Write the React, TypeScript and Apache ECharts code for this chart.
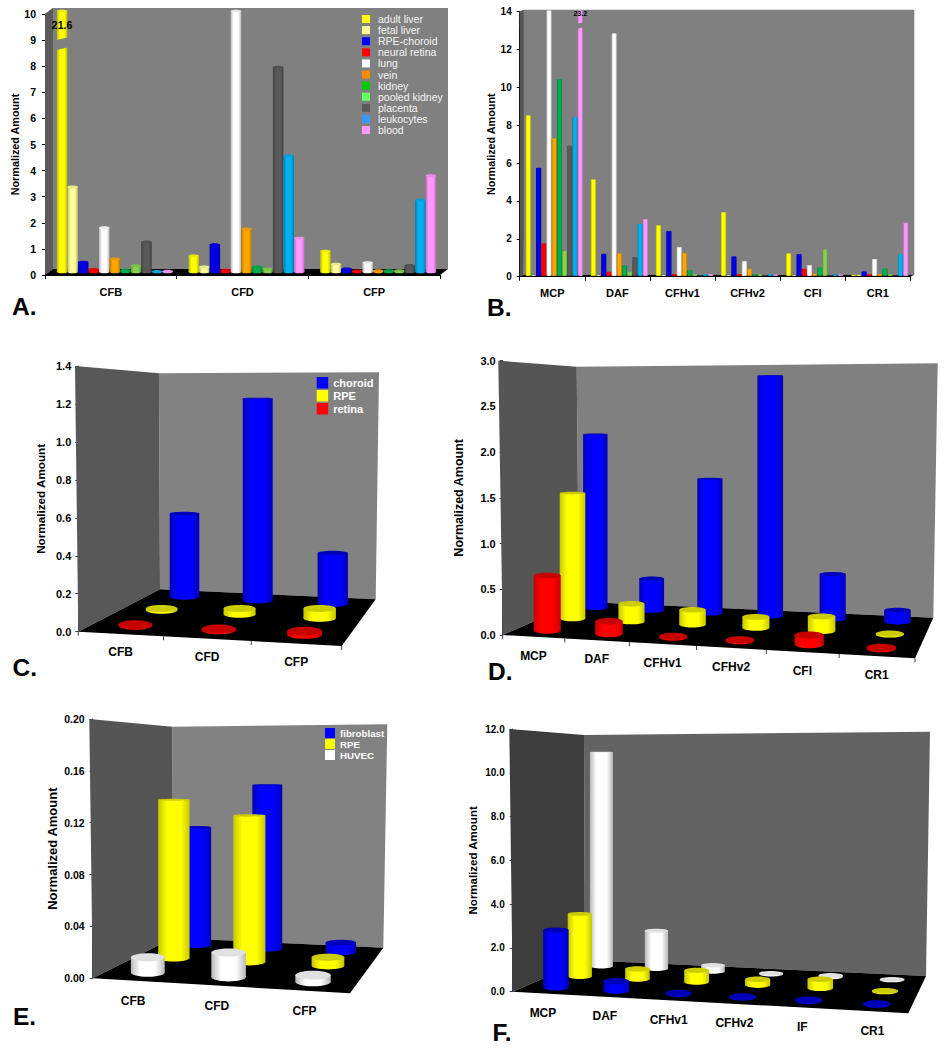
import React, { useEffect, useRef } from "react";
import * as echarts from "echarts";

const FONT = '"Liberation Sans", Arial, sans-serif';

// ---------- categories ----------
const plasmaCats = ["CFB", "CFD", "CFP"];
const membraneCats = ["MCP", "DAF", "CFHv1", "CFHv2", "CFI", "CR1"];
const membraneCatsF = ["MCP", "DAF", "CFHv1", "CFHv2", "IF", "CR1"];
const tissueNames = ["adult liver", "fetal liver", "RPE-choroid", "neural retina", "lung", "vein", "kidney", "pooled kidney", "placenta", "leukocytes", "blood"];

// ---------- panel A values ----------
const aAdultLiver = [21.6, 0.62, 0.8];
const aFetalLiver = [3.26, 0.2, 0.3];
const aRpeChoroid = [0.38, 1.05, 0.12];
const aNeuralRetina = [0.1, 0.07, 0.04];
const aLung = [1.7, 10, 0.36];
const aVein = [0.5, 1.65, 0.05];
const aKidney = [0.07, 0.2, 0.05];
const aPooledKidney = [0.24, 0.12, 0.05];
const aPlacenta = [1.15, 7.85, 0.25];
const aLeukocytes = [0.02, 4.45, 2.75];
const aBlood = [0.03, 1.3, 3.69];

// ---------- panel B values ----------
const bAdultLiver = [8.45, 5.07, 2.64, 3.33, 1.16, 0.03];
const bFetalLiver = [0.02, 0.02, 0.02, 0.02, 0.02, 0.03];
const bRpeChoroid = [5.69, 1.14, 2.34, 1.0, 1.13, 0.21];
const bNeuralRetina = [1.69, 0.19, 0.07, 0.07, 0.35, 0.07];
const bLung = [14, 12.78, 1.5, 0.76, 0.53, 0.86];
const bVein = [7.24, 1.16, 1.18, 0.35, 0.09, 0.07];
const bKidney = [10.37, 0.53, 0.28, 0.07, 0.42, 0.37];
const bPooledKidney = [1.3, 0.19, 0.07, 0.07, 1.37, 0.07];
const bPlacenta = [6.85, 0.97, 0.01, 0.01, 0.01, 0.01];
const bLeukocytes = [8.35, 2.73, 0.07, 0.07, 0.05, 1.13];
const bBlood = [23.2, 2.96, 0.07, 0.05, 0.05, 2.78];

// ---------- panels C to F values ----------
const cChoroid = [0.52, 1.245, 0.31];
const cRpe = [0.01, 0.032, 0.055];
const cRetina = [0.005, 0.005, 0.018];

const dBlue = [2.15, 0.39, 1.61, 2.83, 0.52, 0.135];
const dYellow = [1.475, 0.204, 0.167, 0.12, 0.159, 0.01];
const dRed = [0.61, 0.135, 0.01, 0.01, 0.098, 0.01];

const eFibroblast = [0.108, 0.147, 0.0085];
const eRpe = [0.135, 0.1225, 0.007];
const eHuvec = [0.012, 0.019, 0.005];

const fWhite = [11.05, 1.94, 0.31, 0.05, 0.08, 0.03];
const fYellow = [3.06, 0.49, 0.56, 0.27, 0.42, 0.03];
const fBlue = [2.67, 0.43, 0.03, 0.03, 0.03, 0.03];

// ---------- styles ----------
const tissueBarColors = ["#ffff00", "#ffff99", "#0000e6", "#ff0000", "#ffffff", "#ffa500", "#00b050", "#88d050", "#595959", "#00b0f0", "#ff99ff"];
const tissueLegendColors = ["#ffff00", "#ffff99", "#0000ff", "#ff0000", "#ffffff", "#ff8c00", "#00cc00", "#66ff66", "#595959", "#3399ff", "#ff99ff"];
const BLUE = "#0000ff";
const YELLOW = "#ffff00";
const RED = "#ff0000";
const WHITE = "#ffffff";

function shade(hex: string, f: number) {
  const n = parseInt(hex.slice(1), 16);
  const ch = (s: number) => Math.round(((n >> s) & 255) * f);
  return `rgb(${ch(16)},${ch(8)},${ch(0)})`;
}

function cylinder(cx: number, topY: number, baseY: number, rx: number, ryBase: number, ryTop: number, color: string, edge: number, topF: number) {
  const side = new echarts.graphic.LinearGradient(0, 0, 1, 0, [
    { offset: 0, color: shade(color, edge) },
    { offset: 0.28, color },
    { offset: 0.72, color },
    { offset: 1, color: shade(color, edge) },
  ]);
  return [
    { type: "ellipse", shape: { cx, cy: baseY, rx, ry: ryBase }, style: { fill: side } },
    { type: "rect", shape: { x: cx - rx, y: topY, width: rx * 2, height: Math.max(0, baseY - topY) }, style: { fill: side } },
    { type: "ellipse", shape: { cx, cy: topY, rx, ry: ryTop }, style: { fill: shade(color, topF) } },
  ];
}

// ---------- flat panels (A, B) ----------
type Flat = {
  left: number; right: number; top: number; bottom: number; max: number; step: number;
  dx: number; dy: number; pitch: number; shift: number; topTilt: number;
  cats: string[]; wall: string; side: string; label: string; nameGap: number; axisFont: number;
  labelMargin: number; nameFont: number; breakAt: number[]; breakTilt: number; barLabelOffset: number; barLabelFont: number;
  breakCat: number; breakTissue: number;
};

const panelA: Flat = {
  left: 45, right: 440, top: 14, bottom: 275, max: 10, step: 1, dx: 8, dy: -6, pitch: 10.55, shift: 4, topTilt: 0.26,
  cats: plasmaCats, wall: "#808080", side: "#5a5a5a", label: "21.6", nameGap: 22, axisFont: 10.5, labelMargin: 9, nameFont: 10.8,
  breakAt: [8.5, 8.88], breakTilt: -3, barLabelOffset: 14, barLabelFont: 10.5, breakCat: 0, breakTissue: 0,
};
const panelB: Flat = {
  left: 519.7, right: 910.3, top: 11.7, bottom: 276.7, max: 14, step: 2, dx: 4, dy: -2, pitch: 5.2, shift: 2, topTilt: 0.12,
  cats: membraneCats, wall: "#808080", side: "#555555", label: "23.2", nameGap: 21, axisFont: 10, labelMargin: 8, nameFont: 10.8,
  breakAt: [13.06, 13.33], breakTilt: -1, barLabelOffset: 3, barLabelFont: 7, breakCat: 0, breakTissue: 10,
};

// ---------- perspective panels (C to F) ----------
type Pt = number[];
type Persp = {
  fl: Pt; fr: Pt; br: Pt; bl: Pt; flTop: Pt; blTop: Pt; brTop: Pt;
  max: number; step: number; digits: number; cats: string[]; wall: string; side: string; rx: number;
  nameGap: number; nameFont: number; axisFont: number; labelMargin: number; ticks: boolean; catDy: number;
};

const panelC: Persp = {
  fl: [78.3, 631.7], fr: [341.7, 646], br: [375.7, 599.3], bl: [160, 589.3], flTop: [75, 366], blTop: [159, 373.3], brTop: [379, 372.3],
  max: 1.4, step: 0.2, digits: 1, cats: plasmaCats, wall: "#828282", side: "#585858", rx: 17.5, nameGap: 32, nameFont: 11.7, axisFont: 11, labelMargin: 7, ticks: true, catDy: 18.5,
};
const panelD: Persp = {
  fl: [502.7, 635], fr: [915, 658.3], br: [933.3, 617.7], bl: [579, 601.7], flTop: [498.3, 360.7], blTop: [576.7, 366.7], brTop: [937.7, 363.3],
  max: 3, step: 0.5, digits: 1, cats: membraneCats, wall: "#808080", side: "#555555", rx: 13.8, nameGap: 37, nameFont: 12.5, axisFont: 11, labelMargin: 7, ticks: true, catDy: 19,
};
const panelE: Persp = {
  fl: [92.7, 978.3], fr: [350, 993.3], br: [383.3, 947.7], bl: [173.3, 938], flTop: [89.3, 719], blTop: [172.3, 726.7], brTop: [387.3, 724.3],
  max: 0.2, step: 0.04, digits: 2, cats: plasmaCats, wall: "#828282", side: "#555555", rx: 17.4, nameGap: 34, nameFont: 13, axisFont: 10.5, labelMargin: 8, ticks: false, catDy: 20.5,
};
const panelF: Persp = {
  fl: [512.7, 991.7], fr: [908.3, 1013.3], br: [926, 976], bl: [585, 960.3], flTop: [509.3, 729], blTop: [584, 735], brTop: [930, 731.7],
  max: 12, step: 2, digits: 1, cats: membraneCatsF, wall: "#636363", side: "#3d3d3d", rx: 13, nameGap: 34, nameFont: 11.5, axisFont: 10, labelMargin: 8, ticks: false, catDy: 19.5,
};

function homography(g: Persp) {
  const [x0, y0] = g.fl, [x1, y1] = g.fr, [x2, y2] = g.br, [x3, y3] = g.bl;
  const dx1 = x1 - x2, dx2 = x3 - x2, sx = x0 - x1 + x2 - x3;
  const dy1 = y1 - y2, dy2 = y3 - y2, sy = y0 - y1 + y2 - y3;
  const det = dx1 * dy2 - dx2 * dy1;
  const gg = (sx * dy2 - dx2 * sy) / det;
  const h = (dx1 * sy - sx * dy1) / det;
  const a = x1 - x0 + gg * x1, b = x3 - x0 + h * x3, d = y1 - y0 + gg * y1, e = y3 - y0 + h * y3;
  return (u: number, v: number) => {
    const w = gg * u + h * v + 1;
    return [(a * u + b * v + x0) / w, (d * u + e * v + y0) / w, 1 / w];
  };
}

const series: any[] = [];
const grids: any[] = [];
const xAxes: any[] = [];
const yAxes: any[] = [];

function yAxisBase(max: number, step: number, gridIndex: number, font: number, margin: number, nameGap: number, nameFont: number, digits: number, lineColor: string) {
  return {
    type: "value", gridIndex, min: 0, max, interval: step,
    name: "Normalized Amount", nameLocation: "middle", nameGap,
    nameTextStyle: { fontFamily: FONT, fontWeight: "bold", fontSize: nameFont, color: "#000" },
    axisLine: { show: true, lineStyle: { color: lineColor, width: 1 } },
    axisTick: { show: true, length: 3, lineStyle: { color: lineColor } },
    splitLine: { show: false },
    axisLabel: {
      fontFamily: FONT, fontWeight: "bold", fontSize: font, color: "#000", margin,
      formatter: (v: number) => (digits ? v.toFixed(digits) : String(Math.round(v))),
    },
  };
}

function addFlatPanel(p: Flat, tissues: number[][]) {
  const gi = grids.length;
  grids.push({ left: p.left, width: p.right - p.left, top: p.top, height: p.bottom - p.top });
  xAxes.push({
    type: "category", gridIndex: gi, data: p.cats,
    axisLine: { show: true, lineStyle: { color: "#000" } },
    axisTick: { show: true, length: 4, lineStyle: { color: "#000" } },
    axisLabel: { fontFamily: FONT, fontWeight: "bold", fontSize: 11, color: "#000", margin: 11 },
  });
  yAxes.push(yAxisBase(p.max, p.step, gi, p.axisFont, p.labelMargin, p.nameGap, p.nameFont, 0, "#000"));
  const L = p.left, R = p.right, T = p.top, B = p.bottom;
  series.push({
    type: "custom", name: "wall", xAxisIndex: gi, yAxisIndex: gi, silent: true, data: [[p.cats[0], 0]], encode: { x: 0, y: 1 },
    renderItem: () => ({
      type: "group",
      children: [
        { type: "polygon", shape: { points: [[L, T], [L + p.dx, T + p.dy], [R + p.dx, T + p.dy], [R + p.dx, B + p.dy], [L + p.dx, B + p.dy]] }, style: { fill: p.wall } },
        { type: "polygon", shape: { points: [[L, B], [L + p.dx, B + p.dy], [L + p.dx, T + p.dy], [L, T]] }, style: { fill: p.side } },
        { type: "polygon", shape: { points: [[L, B], [R, B], [R + p.dx, B + p.dy], [L + p.dx, B + p.dy]] }, style: { fill: "#000" } },
      ],
    }),
  });
  tissues.forEach((vals, ti) => {
    series.push({
      type: "custom", name: tissueNames[ti], xAxisIndex: gi, yAxisIndex: gi, silent: true,
      itemStyle: { color: tissueLegendColors[ti] },
      data: vals.map((v, i) => [p.cats[i], v]), encode: { x: 0, y: 1 },
      renderItem: (_: any, api: any) => {
        const ci = api.value(0), val = api.value(1);
        const clipped = Math.min(val, p.max);
        const c0 = api.coord([ci, 0]), cv = api.coord([ci, clipped]);
        const rx = p.pitch / 2;
        const cx = c0[0] + p.shift + (ti - 5) * p.pitch;
        const topY = cv[1] + p.dy * 0.5, baseY = c0[1] + p.dy * 0.5;
        const ry = rx * p.topTilt;
        const children: any[] = cylinder(cx, topY, baseY, rx, ry, ry, tissueBarColors[ti], 0.72, 0.92);
        if (val > p.max && ci === p.breakCat && ti === p.breakTissue) {
          const lo = api.coord([ci, p.breakAt[0]])[1] + p.dy * 0.5;
          const hi = api.coord([ci, p.breakAt[1]])[1] + p.dy * 0.5;
          children.push({
            type: "polygon",
            shape: { points: [[cx - rx - 1, lo], [cx + rx + 1, lo + p.breakTilt], [cx + rx + 1, hi + p.breakTilt], [cx - rx - 1, hi]] },
            style: { fill: p.wall },
          });
          children.push({
            type: "text",
            style: { x: cx, y: topY + p.barLabelOffset, text: p.label, fill: "#000", font: `bold ${p.barLabelFont}px ${FONT}`, align: "center", verticalAlign: "middle" },
          });
        }
        return { type: "group", children };
      },
    });
  });
}

function addPerspPanel(p: Persp, rows: { name: string; color: string; v: number; values: number[]; edge: number; topF: number }[]) {
  const gi = grids.length;
  const left = p.fl[0], width = p.fr[0] - p.fl[0];
  grids.push({ left, width, top: p.flTop[1], height: p.fl[1] - p.flTop[1] });
  xAxes.push({ type: "category", gridIndex: gi, data: p.cats, show: false });
  yAxes.push(yAxisBase(p.max, p.step, gi, p.axisFont, p.labelMargin, p.nameGap, p.nameFont, p.digits, "#33415c"));
  const project = homography(p);
  series.push({
    type: "custom", name: "walls", xAxisIndex: gi, yAxisIndex: gi, silent: true, data: [[p.cats[0], 0]], encode: { x: 0, y: 1 },
    renderItem: () => ({
      type: "group",
      children: [
        { type: "polygon", shape: { points: [p.blTop, p.brTop, p.br, p.bl] }, style: { fill: p.wall } },
        { type: "polygon", shape: { points: [p.flTop, p.blTop, p.bl, p.fl] }, style: { fill: p.side } },
        { type: "polygon", shape: { points: [p.fl, p.fr, p.br, p.bl] }, style: { fill: "#000" } },
      ],
    }),
  });
  series.push({
    type: "custom", name: "categories", xAxisIndex: gi, yAxisIndex: gi, silent: true, data: p.cats.map((c) => [c, 0]), encode: { x: 0, y: 1 },
    renderItem: (_: any, api: any) => {
      const ci = api.value(0);
      const cx = api.coord([ci, 0])[0];
      const u = (cx - left) / width, half = 0.5 / p.cats.length;
      const m = project(u, 0), e = project(u + half, 0), s = project(u - half, 0);
      const children: any[] = [{
        type: "text",
        style: { x: m[0], y: m[1] + p.catDy, text: p.cats[ci], fill: "#000", font: `bold 12px ${FONT}`, align: "center", verticalAlign: "middle" },
      }];
      if (p.ticks) {
        for (const q of ci === 0 ? [s, e] : [e]) {
          children.push({ type: "line", shape: { x1: q[0], y1: q[1], x2: q[0], y2: q[1] + 4 }, style: { stroke: "#33415c", lineWidth: 1 } });
        }
      }
      return { type: "group", children };
    },
  });
  rows.forEach((row) => {
    series.push({
      type: "custom", name: row.name, xAxisIndex: gi, yAxisIndex: gi, silent: true,
      itemStyle: { color: row.color },
      data: row.values.map((v, i) => [p.cats[i], v]), encode: { x: 0, y: 1 },
      renderItem: (_: any, api: any) => {
        const ci = api.value(0), val = api.value(1);
        const c0 = api.coord([ci, 0]), cv = api.coord([ci, val]);
        const u = (c0[0] - left) / width;
        const [bx, by, s] = project(u, row.v);
        const axisH = p.fl[1] - p.flTop[1];
        const h = (c0[1] - cv[1]) * s;
        const rx = p.rx * s;
        const ry = rx * 0.27 * (1 - 0.35 * row.v);
        const ryTop = ry * Math.max(0.12, 1 - (c0[1] - cv[1]) / axisH / 0.95);
        return { type: "group", children: cylinder(bx, by - h, by, rx, ry, ryTop, row.color, row.edge, row.topF) };
      },
    });
  });
}

addFlatPanel(panelA, [aAdultLiver, aFetalLiver, aRpeChoroid, aNeuralRetina, aLung, aVein, aKidney, aPooledKidney, aPlacenta, aLeukocytes, aBlood]);
addFlatPanel(panelB, [bAdultLiver, bFetalLiver, bRpeChoroid, bNeuralRetina, bLung, bVein, bKidney, bPooledKidney, bPlacenta, bLeukocytes, bBlood]);
addPerspPanel(panelC, [
  { name: "choroid", color: BLUE, v: 5 / 6, values: cChoroid, edge: 0.72, topF: 0.72 },
  { name: "RPE", color: YELLOW, v: 0.5, values: cRpe, edge: 0.78, topF: 0.8 },
  { name: "retina", color: RED, v: 1 / 6, values: cRetina, edge: 0.8, topF: 0.78 },
]);
addPerspPanel(panelD, [
  { name: "choroid", color: BLUE, v: 5 / 6, values: dBlue, edge: 0.72, topF: 0.72 },
  { name: "RPE", color: YELLOW, v: 0.5, values: dYellow, edge: 0.78, topF: 0.8 },
  { name: "retina", color: RED, v: 1 / 6, values: dRed, edge: 0.8, topF: 0.78 },
]);
addPerspPanel(panelE, [
  { name: "fibroblast", color: BLUE, v: 5 / 6, values: eFibroblast, edge: 0.72, topF: 0.72 },
  { name: "RPE", color: YELLOW, v: 0.5, values: eRpe, edge: 0.78, topF: 0.8 },
  { name: "HUVEC", color: WHITE, v: 1 / 6, values: eHuvec, edge: 0.72, topF: 0.88 },
]);
addPerspPanel(panelF, [
  { name: "HUVEC", color: WHITE, v: 5 / 6, values: fWhite, edge: 0.72, topF: 0.88 },
  { name: "RPE", color: YELLOW, v: 0.5, values: fYellow, edge: 0.78, topF: 0.8 },
  { name: "fibroblast", color: BLUE, v: 1 / 6, values: fBlue, edge: 0.72, topF: 0.72 },
]);

const legends = [
  {
    left: 362, top: 13.5, itemWidth: 8, itemHeight: 8, itemGap: 0, orient: "vertical", padding: 0, selectedMode: false, icon: "rect",
    data: tissueNames.map((name, i) => ({ name, itemStyle: { color: tissueLegendColors[i] } })),
    textStyle: { fontFamily: FONT, fontSize: 10.5, color: "#f4f4f4", lineHeight: 11.1, padding: [0, 0, 0, 3] },
  },
  {
    left: 316.7, top: 377, itemWidth: 11.5, itemHeight: 11.5, itemGap: 1.5, orient: "vertical", padding: 0, selectedMode: false, icon: "rect",
    data: ["choroid", "RPE", "retina"],
    textStyle: { fontFamily: FONT, fontSize: 11, fontWeight: "bold", color: "#ffffff" },
  },
  {
    left: 325, top: 728, itemWidth: 10, itemHeight: 10, itemGap: 1, orient: "vertical", padding: 0, selectedMode: false, icon: "rect",
    data: ["fibroblast", "RPE", "HUVEC"],
    textStyle: { fontFamily: FONT, fontSize: 9.7, fontWeight: "bold", color: "#ffffff" },
  },
];

const letters = [
  { t: "A.", x: 12, y: 307 },
  { t: "B.", x: 487, y: 308 },
  { t: "C.", x: 12.5, y: 668 },
  { t: "D.", x: 488, y: 672 },
  { t: "E.", x: 13, y: 1017 },
  { t: "F.", x: 492.5, y: 1033 },
];

const option: any = {
  animation: false,
  backgroundColor: "#ffffff",
  grid: grids,
  xAxis: xAxes,
  yAxis: yAxes,
  legend: legends,
  series,
  graphic: letters.map((l) => ({
    type: "text", left: l.x, top: l.y - 13,
    style: { text: l.t, fill: "#000", font: `bold 24.5px ${FONT}` },
  })),
};

export default function App() {
  const ref = useRef<HTMLDivElement>(null);
  useEffect(() => {
    const chart = echarts.init(ref.current!, undefined, { renderer: "svg" });
    chart.setOption(option);
    return () => chart.dispose();
  }, []);
  return <div ref={ref} style={{ position: "absolute", left: 0, top: 0, width: 944, height: 1050 }} />;
}
